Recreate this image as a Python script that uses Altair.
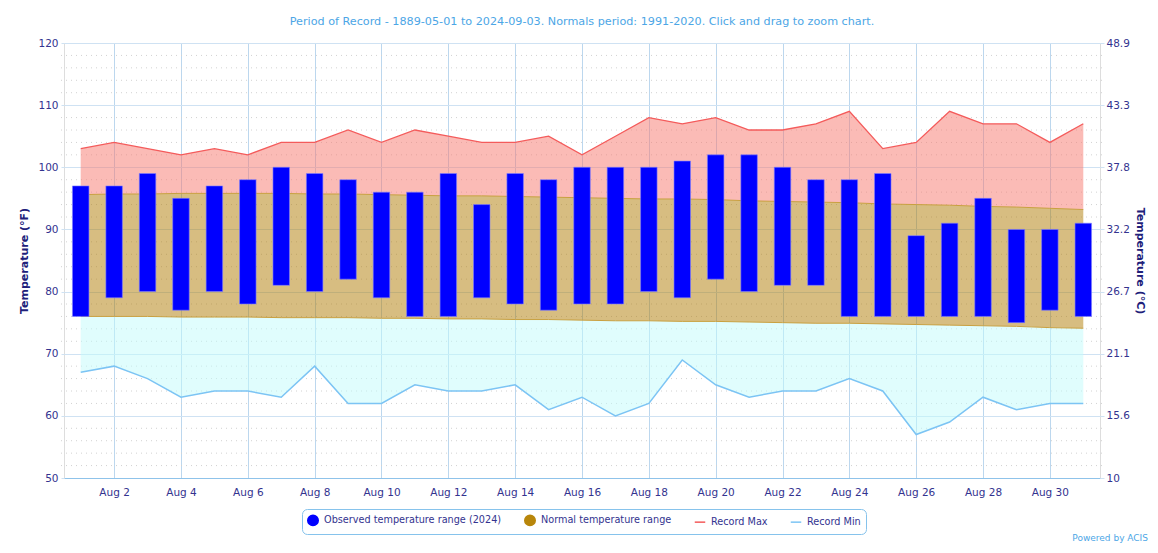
import altair as alt
import pandas as pd

# ---- data ----
days = list(range(1, 32))
obs_hi = [97, 97, 99, 95, 97, 98, 100, 99, 98, 96, 96, 99, 94, 99, 98, 100,
          100, 100, 101, 102, 102, 100, 98, 98, 99, 89, 91, 95, 90, 90, 91]
obs_lo = [76, 79, 80, 77, 80, 78, 81, 80, 82, 79, 76, 76, 79, 78, 77, 78,
          78, 80, 79, 82, 80, 81, 81, 76, 76, 76, 76, 76, 75, 77, 76]
rec_max = [103, 104, 103, 102, 103, 102, 104, 104, 106, 104, 106, 105, 104, 104, 105, 102,
           105, 108, 107, 108, 106, 106, 107, 109, 103, 104, 109, 107, 107, 104, 107]
rec_min = [67, 68, 66, 63, 64, 64, 63, 68, 62, 62, 65, 64, 64, 65, 61, 63,
           60, 62, 69, 65, 63, 64, 64, 66, 64, 57, 59, 63, 61, 62, 62]
norm_hi = [95.6, 95.7, 95.7, 95.8, 95.8, 95.8, 95.8, 95.7, 95.7, 95.6, 95.5, 95.4, 95.4, 95.3,
           95.2, 95.1, 95.0, 94.9, 94.9, 94.8, 94.6, 94.5, 94.4, 94.3, 94.1, 94.0, 93.9, 93.7,
           93.6, 93.4, 93.2]
norm_lo = [76.0, 76.0, 76.0, 75.9, 75.9, 75.9, 75.8, 75.8, 75.8, 75.7, 75.7, 75.6, 75.6, 75.5,
           75.5, 75.4, 75.3, 75.3, 75.2, 75.2, 75.1, 75.0, 74.9, 74.9, 74.8, 74.7, 74.6, 74.5,
           74.4, 74.2, 74.1]

x_tick_days = [2, 4, 6, 8, 10, 12, 14, 16, 18, 20, 22, 24, 26, 28, 30]
y_major = [50, 60, 70, 80, 90, 100, 110, 120]
y_minor = [52, 54, 56, 58, 62, 64, 66, 68, 72, 74, 76, 78, 82, 84, 86, 88,
           92, 94, 96, 98, 102, 104, 106, 108, 112, 114, 116, 118]

series = ["Observed temperature range (2024)", "Normal temperature range",
          "Record Max", "Record Min"]
series_colors = ["#0000ff", "#b8860b", "#f45b5b", "#7cc4f4"]
series_shapes = ["circle", "circle", "stroke", "stroke"]

title_text = ("Period of Record - 1889-05-01 to 2024-09-03. "
              "Normals period: 1991-2020. Click and drag to zoom chart.")

df = pd.DataFrame({
    "day": days, "obs_hi": obs_hi, "obs_lo": obs_lo,
    "rec_max": rec_max, "rec_min": rec_min,
    "norm_hi": norm_hi, "norm_lo": norm_lo,
})
minor_df = pd.DataFrame({"v": y_minor})
legend_df = pd.DataFrame({"series": series})

W, H = 1036, 435
FONT = "DejaVu Sans"
LABEL = "#33338f"
GRID = "#cfe2f3"

xscale = alt.Scale(domain=[0.5, 31.5], nice=False, zero=False, padding=0)
yscale = alt.Scale(domain=[50, 120], nice=False, zero=False, padding=0)

x_axis = alt.Axis(values=x_tick_days, labelExpr="'Aug ' + datum.value",
                  grid=True, gridColor="#bcd7ee", gridWidth=1,
                  domain=True, domainColor="#8fc3ea", domainWidth=1.2,
                  ticks=False, labelPadding=9, labelColor=LABEL,
                  labelFontSize=10.5, labelFont=FONT, title=None)

left_axis = alt.Axis(orient="left", values=y_major, grid=True, gridColor=GRID,
                     gridWidth=1.2, domain=False, ticks=True, tickSize=3,
                     tickColor=GRID, labelPadding=3, labelColor=LABEL,
                     labelFontSize=10.5, labelFont=FONT,
                     title="Temperature (°F)", titleColor="#20207a",
                     titleFontSize=11, titleFont=FONT, titleFontWeight="bold",
                     titlePadding=8)

right_axis = alt.Axis(orient="right", values=y_major, grid=False, domain=False,
                      ticks=True, tickSize=4, tickColor=GRID,
                      labelExpr="toString(round((datum.value - 32) * 50 / 9) / 10)",
                      labelPadding=2, labelColor=LABEL, labelFontSize=10.5,
                      labelFont=FONT, title="Temperature (°C)",
                      titleColor="#20207a", titleFontSize=11, titleFont=FONT,
                      titleFontWeight="bold", titlePadding=5)

base = alt.Chart(df)
X = alt.X("day:Q", scale=xscale, axis=x_axis)

minor = alt.Chart(minor_df).mark_rule(color="#d2d2d2", strokeDash=[1, 4], strokeWidth=1).encode(
    y=alt.Y("v:Q", scale=yscale, axis=None),
    x=alt.value(-3), x2=alt.value(W + 3),
)

pink = base.mark_area(color="#f7776d", opacity=0.5).encode(
    x=X, y=alt.Y("rec_max:Q", scale=yscale, axis=left_axis), y2="norm_hi:Q")

brown = base.mark_area(color="#b07c04", opacity=0.5).encode(
    x=X, y=alt.Y("norm_hi:Q", scale=yscale, axis=None), y2="norm_lo:Q")

brown_top = base.mark_line(color="#c9a040", strokeWidth=1).encode(
    x=X, y=alt.Y("norm_hi:Q", scale=yscale, axis=None))
brown_bot = base.mark_line(color="#c9a040", strokeWidth=1).encode(
    x=X, y=alt.Y("norm_lo:Q", scale=yscale, axis=None))

cyan = base.mark_area(color="#c2fbfb", opacity=0.5).encode(
    x=X, y=alt.Y("norm_lo:Q", scale=yscale, axis=None), y2="rec_min:Q")

red_line = base.mark_line(color="#f45b5b", strokeWidth=1.3).encode(
    x=X, y=alt.Y("rec_max:Q", scale=yscale, axis=None))

blue_line = base.mark_line(color="#7cc4f4", strokeWidth=1.5).encode(
    x=X, y=alt.Y("rec_min:Q", scale=yscale, axis=right_axis))

bars = base.mark_bar(color="#0000ff", size=16.5, stroke="#8080ff", strokeWidth=0.6).encode(
    x=X, y=alt.Y("obs_hi:Q", scale=yscale, axis=None), y2="obs_lo:Q")

leg_scale = alt.Scale(domain=series, range=series_colors)
legend = alt.Legend(orient="none", legendX=238, legendY=466, direction="horizontal",
                    title=None, strokeColor="#86c3ec", cornerRadius=5, padding=5,
                    fillColor="white", labelColor=LABEL, labelFontSize=9.7,
                    labelFont=FONT, symbolSize=110, symbolOpacity=1,
                    symbolStrokeWidth=1.5, columnPadding=19, labelLimit=400,
                    labelOffset=5)
legend_layer = alt.Chart(legend_df).mark_point(filled=True, opacity=0).encode(
    x=alt.value(0), y=alt.value(0),
    fill=alt.Fill("series:N", scale=leg_scale, legend=legend, sort=series),
    stroke=alt.Stroke("series:N", scale=leg_scale, legend=legend, sort=series),
    shape=alt.Shape("series:N", scale=alt.Scale(domain=series, range=series_shapes),
                    legend=legend, sort=series),
)

credit = alt.Chart(legend_df.head(1)).mark_text(
    text="Powered by ACIS", color="#4ca6e6", fontSize=9, font=FONT, align="right",
    baseline="middle").encode(x=alt.value(W + 48), y=alt.value(H + 60))

chart = alt.layer(
    minor, pink, brown, cyan, brown_top, brown_bot, red_line, blue_line, bars,
    legend_layer, credit,
).resolve_axis(y="independent").properties(
    width=W, height=H,
    autosize=alt.AutoSizeParams(type="none"),
    padding={"left": 56, "top": 35, "right": 50, "bottom": 66},
    title=alt.Title(title_text, color="#4ca6e6", fontSize=11.2, font=FONT,
                    fontWeight="normal", anchor="middle", offset=11),
).configure_view(stroke=None).configure(background="white")

chart.save("out.html", embed_options={"renderer": "svg", "actions": False})
